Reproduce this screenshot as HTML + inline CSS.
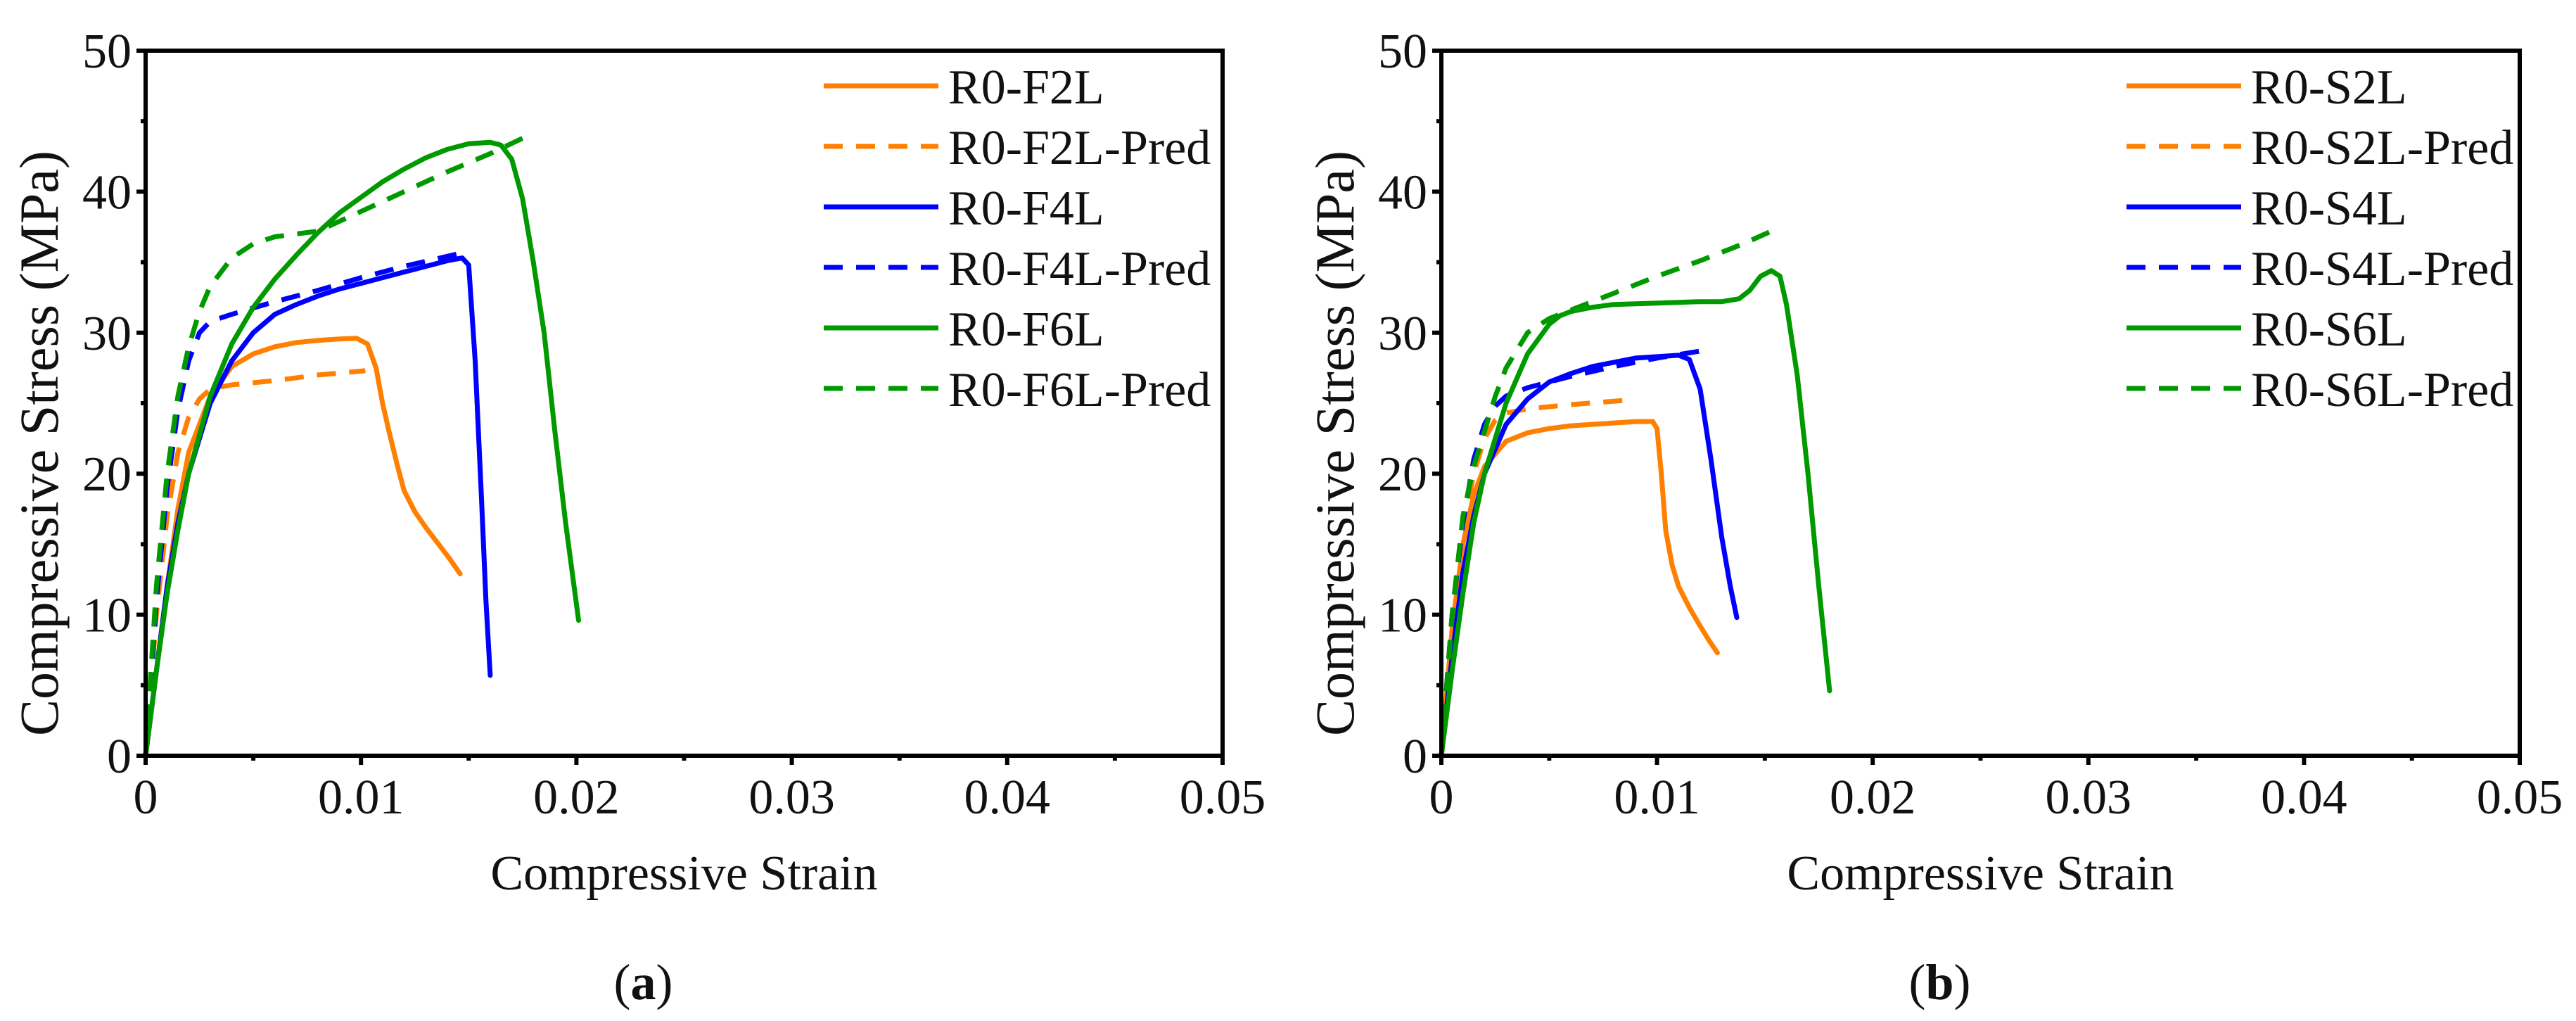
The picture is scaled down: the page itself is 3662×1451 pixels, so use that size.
<!DOCTYPE html>
<html><head><meta charset="utf-8">
<style>
html,body{margin:0;padding:0;background:#fff;}
svg{display:block;}
text{font-family:"Liberation Serif","Times New Roman",serif;fill:#111;}
</style></head>
<body>
<svg id="fig" width="3662" height="1451" viewBox="0 0 3662 1451" xmlns="http://www.w3.org/2000/svg"></svg>
<script>
// ---- shared axis data ----
const xTicks = [0, 0.01, 0.02, 0.03, 0.04, 0.05];
const xTickLabels = ["0", "0.01", "0.02", "0.03", "0.04", "0.05"];
const yTicks = [0, 10, 20, 30, 40, 50];
const yTickLabels = ["0", "10", "20", "30", "40", "50"];

// ---- panel (a) series ----
const aF2L_x = [0,0.0005,0.001,0.0015,0.002,0.003,0.004,0.005,0.006,0.007,0.008,0.009,0.0098,0.0103,0.0107,0.011,0.0113,0.0117,0.012,0.0125,0.013,0.0135,0.0141,0.0146];
const aF2L_y = [0,6,12,17.5,21.5,25.5,27.6,28.5,29,29.3,29.45,29.55,29.6,29.2,27.5,25,23,20.5,18.8,17.3,16.2,15.2,14,12.9];
const aF2LP_x = [0,0.0005,0.001,0.0015,0.002,0.0025,0.003,0.004,0.006,0.008,0.0102];
const aF2LP_y = [0,10,17,21.5,24,25.3,26,26.3,26.6,27,27.3];
const aF4L_x = [0,0.0005,0.001,0.0015,0.002,0.003,0.004,0.005,0.006,0.007,0.008,0.009,0.010,0.011,0.012,0.013,0.014,0.0147,0.0150,0.0153,0.0156,0.0158,0.0160];
const aF4L_y = [0,6,12,16.5,20,25,28,30,31.3,32,32.6,33.1,33.5,33.9,34.3,34.7,35.1,35.3,34.8,28,18,11,5.7];
const aF4LP_x = [0,0.0005,0.001,0.0015,0.002,0.0025,0.003,0.004,0.006,0.008,0.010,0.012,0.0148];
const aF4LP_y = [0,11,19,24.5,28,30,30.8,31.3,32.2,33,33.9,34.7,35.7];
const aF6L_x = [0,0.0005,0.001,0.0015,0.002,0.003,0.004,0.005,0.006,0.007,0.008,0.009,0.010,0.011,0.012,0.013,0.014,0.015,0.016,0.0165,0.017,0.0175,0.018,0.0185,0.019,0.0195,0.0201];
const aF6L_y = [0,6,11.5,16,20,25.5,29.2,31.8,33.8,35.5,37.1,38.5,39.6,40.7,41.6,42.4,43,43.4,43.5,43.3,42.3,39.5,35,30,23,16.5,9.6];
const aF6LP_x = [0,0.0005,0.001,0.0015,0.002,0.0025,0.003,0.004,0.005,0.006,0.007,0.008,0.010,0.012,0.014,0.016,0.0178];
const aF6LP_y = [0,12,20,25.5,29,31.5,33.3,35.3,36.3,36.8,37,37.2,38.6,40,41.4,42.7,44];

// ---- panel (b) series ----
const bS2L_x = [0,0.0005,0.001,0.0015,0.002,0.003,0.004,0.005,0.006,0.007,0.008,0.009,0.0098,0.0100,0.0102,0.0104,0.0107,0.011,0.0115,0.012,0.0124,0.0128];
const bS2L_y = [0,9,15,18.5,20.5,22.3,22.9,23.2,23.4,23.5,23.6,23.7,23.7,23.2,20,16,13.5,12,10.5,9.2,8.2,7.3];
const bS2LP_x = [0,0.0005,0.001,0.0015,0.002,0.0025,0.003,0.004,0.006,0.0085];
const bS2LP_y = [0,10,16,20,22.5,23.8,24.3,24.6,24.9,25.2];
const bS4L_x = [0,0.0005,0.001,0.0015,0.002,0.003,0.004,0.005,0.006,0.007,0.008,0.009,0.010,0.011,0.0115,0.012,0.0125,0.013,0.0134,0.0137];
const bS4L_y = [0,7,13,17,20,23.5,25.3,26.5,27.1,27.6,27.9,28.2,28.3,28.4,28.1,26,21,15.5,12,9.8];
const bS4LP_x = [0,0.0005,0.001,0.0015,0.002,0.0025,0.003,0.004,0.005,0.006,0.008,0.010,0.012];
const bS4LP_y = [0,10,16.5,21,23.5,24.8,25.5,26.1,26.5,26.9,27.6,28.2,28.7];
const bS6L_x = [0,0.0005,0.001,0.0015,0.002,0.003,0.004,0.005,0.0055,0.006,0.007,0.008,0.010,0.012,0.013,0.0138,0.0143,0.0148,0.0153,0.0157,0.016,0.0165,0.017,0.0175,0.018];
const bS6L_y = [0,6,11.5,16.5,20,25,28.5,30.6,31.2,31.5,31.8,32,32.1,32.2,32.2,32.4,33,34,34.4,34,32,27,20,12,4.6];
const bS6LP_x = [0,0.0005,0.001,0.0015,0.002,0.0025,0.003,0.004,0.005,0.006,0.008,0.010,0.012,0.014,0.0153];
const bS6LP_y = [0,10,17,20.5,23,25.5,27.5,30,31,31.6,32.8,34,35.1,36.3,37.2];

const ORANGE = "#ff8000", BLUE = "#0000ff", GREEN = "#009a00";
const DASH = "27 19";

const NS = "http://www.w3.org/2000/svg";
const svg = document.getElementById("fig");
function mk(tag, attrs, parent){
  const e = document.createElementNS(NS, tag);
  for (const k in attrs) e.setAttribute(k, attrs[k]);
  (parent || svg).appendChild(e);
  return e;
}

function panel(cfg){
  const g = mk("g", {});
  
  
  const L = cfg.left, R = cfg.right, T = 72, B = 1074;
  const sx = v => L + (v / 0.05) * (R - L);
  const sy = v => B - (v / 50) * (B - T);

  cfg.series.forEach(s => {
    let d = "";
    s.x.forEach((xv, i) => { d += (i ? "L" : "M") + sx(xv).toFixed(1) + "," + sy(s.y[i]).toFixed(1); });
    const p = mk("path", {d: d, fill: "none", stroke: s.color, "stroke-width": 7,
      "stroke-linejoin": "round", "stroke-linecap": s.dash ? "butt" : "round"}, g);
    if (s.dash) p.setAttribute("stroke-dasharray", DASH);
    
    
  });

  const fr = mk("rect", {x: L, y: T, width: R - L, height: B - T, fill: "none", stroke: "#000", "stroke-width": 6}, g);
  
  

  xTicks.forEach((t, i) => {
    mk("line", {x1: sx(t), y1: B, x2: sx(t), y2: B + 13, stroke: "#000", "stroke-width": 6}, g);
    if (i < xTicks.length - 1) {
      const m = (t + xTicks[i + 1]) / 2;
      mk("line", {x1: sx(m), y1: B, x2: sx(m), y2: B + 7, stroke: "#000", "stroke-width": 6}, g);
    }
    const tx = mk("text", {x: sx(t), y: B + 82, "font-size": 70, "text-anchor": "middle"}, g);
    tx.textContent = xTickLabels[i];
    
    
  });
  yTicks.forEach((t, i) => {
    mk("line", {x1: L - 13, y1: sy(t), x2: L, y2: sy(t), stroke: "#000", "stroke-width": 6}, g);
    if (i < yTicks.length - 1) {
      const m = (t + yTicks[i + 1]) / 2;
      mk("line", {x1: L - 7, y1: sy(m), x2: L, y2: sy(m), stroke: "#000", "stroke-width": 6}, g);
    }
    const ty = mk("text", {x: L - 20, y: sy(t) + 24, "font-size": 70, "text-anchor": "end"}, g);
    ty.textContent = yTickLabels[i];
    
    
  });

  const xt = mk("text", {x: (L + R) / 2, y: 1264, "font-size": 70, "text-anchor": "middle"}, g);
  xt.textContent = "Compressive Strain";
  
  
  const yx = L - 125, yy = 630;
  const yt = mk("text", {x: yx, y: yy, "font-size": 78, "text-anchor": "middle", transform: "rotate(-90 " + yx + " " + yy + ")"}, g);
  yt.textContent = "Compressive Stress (MPa)";
  
  

  const lg = mk("g", {}, g);
  
  
  cfg.series.forEach((s, i) => {
    const y = 122 + i * 86;
    const ln = mk("line", {x1: cfg.legX, y1: y, x2: cfg.legX + 163, y2: y, stroke: s.color, "stroke-width": 7}, lg);
    if (s.dash) ln.setAttribute("stroke-dasharray", DASH);
    
    
    const tx = mk("text", {x: cfg.legX + 177, y: y + 25, "font-size": 70}, lg);
    tx.textContent = s.name;
    
    
  });

  const cap = mk("text", {x: (L + R) / 2 - 58, y: 1420, "font-size": 72, "text-anchor": "middle"}, g);
  cap.innerHTML = '(<tspan font-weight="bold">' + cfg.letter + '</tspan>)';
  
  
}

panel({id: "panel-a", letter: "a", left: 207, right: 1738, legX: 1171, series: [
  {name: "R0-F2L", x: aF2L_x, y: aF2L_y, color: ORANGE, dash: false},
  {name: "R0-F2L-Pred", x: aF2LP_x, y: aF2LP_y, color: ORANGE, dash: true},
  {name: "R0-F4L", x: aF4L_x, y: aF4L_y, color: BLUE, dash: false},
  {name: "R0-F4L-Pred", x: aF4LP_x, y: aF4LP_y, color: BLUE, dash: true},
  {name: "R0-F6L", x: aF6L_x, y: aF6L_y, color: GREEN, dash: false},
  {name: "R0-F6L-Pred", x: aF6LP_x, y: aF6LP_y, color: GREEN, dash: true}
]});
panel({id: "panel-b", letter: "b", left: 2049, right: 3582, legX: 3023, series: [
  {name: "R0-S2L", x: bS2L_x, y: bS2L_y, color: ORANGE, dash: false},
  {name: "R0-S2L-Pred", x: bS2LP_x, y: bS2LP_y, color: ORANGE, dash: true},
  {name: "R0-S4L", x: bS4L_x, y: bS4L_y, color: BLUE, dash: false},
  {name: "R0-S4L-Pred", x: bS4LP_x, y: bS4LP_y, color: BLUE, dash: true},
  {name: "R0-S6L", x: bS6L_x, y: bS6L_y, color: GREEN, dash: false},
  {name: "R0-S6L-Pred", x: bS6LP_x, y: bS6LP_y, color: GREEN, dash: true}
]});
</script>
</body></html>
